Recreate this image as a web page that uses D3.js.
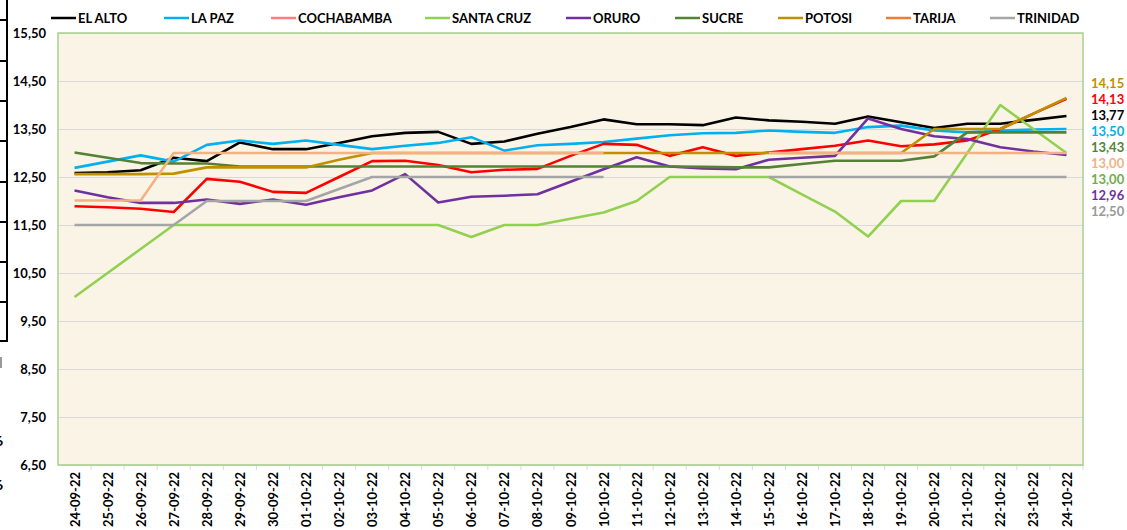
<!DOCTYPE html>
<html>
<head>
<meta charset="utf-8">
<script src="https://cdn.jsdelivr.net/npm/d3@7"></script>
<style>
  body { margin: 0; background: #ffffff; }
  svg { display: block; font-family: "Lato", "DejaVu Sans", sans-serif; font-weight: bold; }
</style>
</head>
<body>
<script>
// categories (dates)
var dates = ["24-09-22","25-09-22","26-09-22","27-09-22","28-09-22","29-09-22","30-09-22",
  "01-10-22","02-10-22","03-10-22","04-10-22","05-10-22","06-10-22","07-10-22","08-10-22",
  "09-10-22","10-10-22","11-10-22","12-10-22","13-10-22","14-10-22","15-10-22","16-10-22",
  "17-10-22","18-10-22","19-10-22","20-10-22","21-10-22","22-10-22","23-10-22","24-10-22"];

var cities = ["EL ALTO","LA PAZ","COCHABAMBA","SANTA CRUZ","ORURO","SUCRE","POTOSI","TARIJA","TRINIDAD"];

// series values (null = no data)
var elAlto = [12.58,12.60,12.64,12.90,12.83,13.22,13.08,13.08,13.21,13.35,13.42,13.44,13.19,13.24,13.40,
  13.54,13.70,13.60,13.60,13.58,13.74,13.68,13.65,13.61,13.76,13.64,13.52,13.61,13.61,13.69,13.77];
var laPaz = [12.69,12.82,12.95,12.82,13.17,13.26,13.19,13.26,13.17,13.08,13.15,13.21,13.33,13.05,13.16,
  13.19,13.23,13.30,13.37,13.41,13.42,13.47,13.44,13.42,13.54,13.57,13.47,13.43,13.47,13.49,13.50];
var cochabamba = [11.89,11.87,11.84,11.77,12.46,12.40,12.19,12.17,12.50,12.83,12.84,12.75,12.60,12.65,12.67,
  12.94,13.19,13.17,12.94,13.12,12.94,13.01,13.08,13.15,13.26,13.14,13.18,13.26,13.50,13.82,14.13];
var santaCruz = [10.00,10.50,11.00,11.50,11.50,11.50,11.50,11.50,11.50,11.50,11.50,11.50,11.25,11.50,11.50,
  11.63,11.76,12.00,12.50,12.50,12.50,12.50,12.14,11.78,11.26,12.00,12.00,13.00,14.00,13.50,13.00];
var oruro = [12.22,12.08,11.96,11.96,12.03,11.94,12.03,11.92,12.08,12.22,12.56,11.97,12.09,12.11,12.14,
  12.40,12.66,12.91,12.72,12.68,12.66,12.86,12.90,12.94,13.72,13.50,13.35,13.29,13.12,13.03,12.96];
var sucre = [13.01,12.90,12.79,12.78,12.78,12.72,12.72,12.72,12.72,12.72,12.72,12.72,12.72,12.72,12.72,
  12.72,12.72,12.72,12.72,12.71,12.70,12.70,12.77,12.84,12.84,12.84,12.93,13.43,13.43,13.43,13.43];
var potosi = [12.56,12.56,12.56,12.57,12.70,12.70,12.70,12.70,12.86,13.00,13.00,13.00,13.00,13.00,13.00,
  13.00,13.00,13.00,13.00,13.00,13.00,13.00,13.00,13.00,13.00,13.00,13.50,13.50,13.50,13.82,14.15];
var tarija = [12.01,12.01,12.01,13.00,13.00,13.00,13.00,13.00,13.00,13.00,13.00,13.00,13.00,13.00,13.00,
  13.00,13.00,null,null,null,null,13.00,13.00,13.00,13.00,13.00,13.00,13.00,13.00,13.00,13.00];
var trinidad = [11.50,11.50,11.50,11.50,12.00,12.00,12.00,12.00,12.25,12.50,12.50,12.50,12.50,12.50,12.50,
  12.50,12.50,null,null,null,null,12.50,12.50,12.50,12.50,12.50,12.50,12.50,12.50,12.50,12.50];

var seriesValues = [elAlto, laPaz, cochabamba, santaCruz, oruro, sucre, potosi, tarija, trinidad];

// y tick labels
var yTicks = [6.5,7.5,8.5,9.5,10.5,11.5,12.5,13.5,14.5,15.5];

// styling
var lineColors = ["#000000","#00B0F0","#FF0000","#92D050","#7030A0","#548235","#BF9000","#F4B183","#A5A5A5"];
var legendColors = ["#000000","#00B0F0","#FF7C80","#92D050","#7030A0","#548235","#BF9000","#ED7D31","#A5A5A5"];
var legendX = [51,164,271,425,566,675,778,886,990];
// order of the stacked end labels on the right (indices into cities)
var endLabelOrder = [6,2,0,1,5,7,3,4,8];
var endLabelColors = ["#000000","#00B0F0","#FF0000","#70AD47","#7030A0","#548235","#BF9000","#F4B183","#999999"];

var width = 1127, height = 530;
var plotLeft = 58, plotRight = 1083, plotTop = 33, plotBottom = 465;

var svg = d3.select("body").append("svg")
    .attr("width", width)
    .attr("height", height);

var x = d3.scalePoint().domain(dates).range([plotLeft, plotRight]).padding(0.5);
var y = d3.scaleLinear().domain([6.5, 15.5]).range([plotBottom, plotTop]);
var fmt = function(v){ return d3.format(".2f")(v).replace(".", ","); };

//stray frame on the left edge
svg.append("line").attr("x1", 7).attr("x2", 7).attr("y1", 0).attr("y2", 341)
    .attr("stroke", "#000").attr("stroke-width", 2);
svg.selectAll(".stray").data([20,61,101,141,182,222,262,302]).enter().append("line")
    .attr("x1", 0).attr("x2", 7).attr("y1", function(d){ return d; }).attr("y2", function(d){ return d; })
    .attr("stroke", "#000").attr("stroke-width", 2);
svg.append("line").attr("x1", 0).attr("x2", 8).attr("y1", 341).attr("y2", 341)
    .attr("stroke", "#000").attr("stroke-width", 2);
svg.append("rect").attr("x", 0).attr("y", 357).attr("width", 2).attr("height", 11).attr("fill", "#999");
svg.append("text").attr("x", -5).attr("y", 446).attr("font-size", 14).attr("fill", "#000").text("6");
svg.append("text").attr("x", -5).attr("y", 490).attr("font-size", 14).attr("fill", "#000").text("6");

//plot background
svg.append("rect")
    .attr("x", plotLeft).attr("y", plotTop)
    .attr("width", plotRight - plotLeft).attr("height", plotBottom - plotTop)
    .attr("fill", "#FAF4E6");

//gridlines
svg.append("g")
    .attr("transform", "translate(" + plotLeft + ",0)")
    .call(d3.axisLeft(y).tickValues(yTicks).tickSize(-(plotRight - plotLeft)).tickFormat(""))
    .call(function(g){
        g.select(".domain").remove();
        g.selectAll("line").attr("stroke", "#D9D9D9").attr("stroke-width", 1.2);
    });

//y labels
svg.append("g")
    .attr("transform", "translate(46,0)")
    .call(d3.axisLeft(y).tickValues(yTicks).tickSize(0).tickFormat(fmt))
    .call(function(g){
        g.select(".domain").remove();
        g.selectAll("text").attr("font-size", 13).attr("font-family", "Lato").attr("font-weight", "bold")
            .attr("fill", "#000").attr("x", 0);
    });

//x axis with labels rotated
var step = x.step();
svg.append("line").attr("x1", plotLeft).attr("x2", plotRight).attr("y1", plotBottom).attr("y2", plotBottom)
    .attr("stroke", "#D9D9D9").attr("stroke-width", 1);
svg.selectAll(".xtick").data(dates).enter().append("line")
    .attr("x1", function(d){ return x(d) + step / 2; })
    .attr("x2", function(d){ return x(d) + step / 2; })
    .attr("y1", plotBottom).attr("y2", plotBottom + 5)
    .attr("stroke", "#D9D9D9");

svg.append("g")
    .attr("transform", "translate(0," + (plotBottom + 7) + ")")
    .call(d3.axisBottom(x).tickSize(0).tickPadding(0))
    .call(function(g){
        g.select(".domain").remove();
        g.selectAll("text")
            .attr("font-size", 13).attr("font-family", "Lato").attr("font-weight", "bold").attr("fill", "#000")
            .attr("text-anchor", "end")
            .attr("transform", "rotate(-90)")
            .attr("x", 0).attr("y", 0).attr("dy", "0.35em");
    });

//series lines
var line = d3.line()
    .defined(function(d){ return d != null; })
    .x(function(d, i){ return x(dates[i]); })
    .y(function(d){ return y(d); });

svg.selectAll(".series").data(seriesValues).enter().append("path")
    .attr("class", "series")
    .attr("fill", "none")
    .attr("stroke", function(d, i){ return lineColors[i]; })
    .attr("stroke-width", 2.6)
    .attr("stroke-linejoin", "round")
    .attr("d", line);

//plot border
svg.append("rect")
    .attr("x", plotLeft).attr("y", plotTop)
    .attr("width", plotRight - plotLeft).attr("height", plotBottom - plotTop)
    .attr("fill", "none").attr("stroke", "#A9D18E").attr("stroke-width", 1.5);

//end labels stacked on the right
svg.selectAll(".endlabel").data(endLabelOrder).enter().append("text")
    .attr("x", 1091)
    .attr("y", function(d, i){ return 83 + i * 16; })
    .attr("dy", "0.35em")
    .attr("font-size", 13)
    .attr("fill", function(d){ return endLabelColors[d]; })
    .text(function(d){ var s = seriesValues[d]; return fmt(s[s.length - 1]); });

//legend
var legend = svg.selectAll(".legend").data(cities).enter().append("g")
    .attr("transform", function(d, i){ return "translate(" + legendX[i] + ",18)"; });
legend.append("line")
    .attr("x1", 0).attr("x2", 25).attr("y1", 0).attr("y2", 0)
    .attr("stroke", function(d, i){ return legendColors[i]; })
    .attr("stroke-width", 2.5);
legend.append("text")
    .attr("x", 27).attr("dy", "0.35em")
    .attr("font-size", 13).attr("fill", "#000")
    .text(function(d){ return d; });
</script>
</body>
</html>
